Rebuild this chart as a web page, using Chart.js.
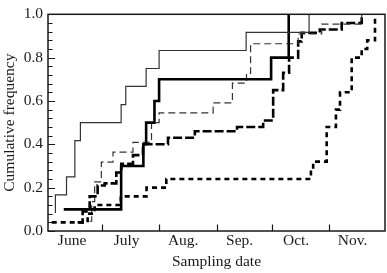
<!DOCTYPE html>
<html>
<head>
<meta charset="utf-8">
<script src="https://cdn.jsdelivr.net/npm/chart.js@4.4.1/dist/chart.umd.min.js"></script>
<style>
  html, body { margin: 0; padding: 0; background: #ffffff; }
  #wrap { width: 387px; height: 273px; position: relative; }
</style>
</head>
<body>
<div id="wrap"><canvas id="c" width="387" height="273"></canvas></div>
<script>
// ---- data (x = days since 1 June) ----
const monthNames = ['June', 'July', 'Aug.', 'Sep.', 'Oct.', 'Nov.'];
const monthLabelDays = [14, 43.5, 74, 104.5, 135, 165.5];
const monthStartDays = [30, 61, 92, 122, 153];
const yTickValues = [0, 0.2, 0.4, 0.6, 0.8, 1.0];

const thinSolidDays   = [5, 5, 11, 15.5, 18.5, 40.5, 43, 54, 61, 108, 142];
const thinSolidValues = [0.083, 0.167, 0.25, 0.417, 0.5, 0.583, 0.667, 0.75, 0.833, 0.917, 1.0];

const thickSolidDays   = [9.5, 40.5, 52.5, 54, 58.5, 61, 121.5, 131];
const thickSolidValues = [0.1, 0.3, 0.4, 0.5, 0.6, 0.7, 0.8, 1.0];

const thinDashDays   = [23.5, 24.6, 26.2, 29.8, 36.1, 46.9, 56.9, 61, 90.2, 100.6, 108.2, 110.4, 136.1, 148.8, 170.4];
const thinDashValues = [0.045, 0.136, 0.227, 0.318, 0.364, 0.409, 0.5, 0.545, 0.591, 0.682, 0.727, 0.864, 0.909, 0.955, 1.0];

const thickDashDays   = [17, 19.7, 23.5, 27.8, 31.6, 37.9, 40.6, 46.9, 52.3, 65.8, 80.3, 103.1, 117.2, 122.6, 128, 131.2, 136.1, 138, 147.8, 159.6, 170.4];
const thickDashValues = [0.04, 0.09, 0.16, 0.21, 0.22, 0.27, 0.31, 0.35, 0.40, 0.43, 0.46, 0.48, 0.51, 0.65, 0.73, 0.80, 0.875, 0.915, 0.93, 0.96, 1.0];

const dottedDays   = [3, 22.4, 26.2, 40.3, 54.2, 64.9, 143, 144.2, 151.5, 156.5, 158.7, 165, 170.4, 173.4, 177.6];
const dottedValues = [0.04, 0.08, 0.12, 0.16, 0.2, 0.24, 0.28, 0.32, 0.48, 0.56, 0.64, 0.80, 0.84, 0.88, 1.0];

const xMin = 1, xMax = 183;
const minorStep = 0.04;

function pts(xs, ys) { return xs.map((x, i) => ({ x: x, y: ys[i] })); }

const FONT = "'Liberation Serif', 'Times New Roman', serif";
const INK = '#1a1a1a';

const inTicks = {
  id: 'inTicks',
  afterDraw(chart) {
    const { ctx, chartArea: a, scales: { x, y } } = chart;
    ctx.save();
    ctx.strokeStyle = INK;
    ctx.lineWidth = 1.2;
    ctx.beginPath();
    monthStartDays.forEach(d => {
      const px = Math.round(x.getPixelForValue(d)) + 0.5;
      ctx.moveTo(px, a.bottom);
      ctx.lineTo(px, a.bottom - 6.5);
    });
    const n = Math.round(1 / minorStep);
    for (let i = 0; i <= n; i++) {
      const py = Math.round(y.getPixelForValue(i * minorStep)) + 0.5;
      const major = (i % 5 === 0);
      ctx.moveTo(a.left, py);
      ctx.lineTo(a.left + (major ? 7 : 4.5), py);
    }
    ctx.stroke();
    ctx.lineWidth = 1.5;
    ctx.strokeRect(a.left, a.top, a.right - a.left, a.bottom - a.top);
    ctx.restore();
  }
};

const base = { pointRadius: 0, pointHoverRadius: 0, stepped: 'before', fill: false, borderCapStyle: 'butt', borderJoinStyle: 'miter' };

new Chart(document.getElementById('c'), {
  type: 'line',
  data: {
    datasets: [
      Object.assign({ label: 'thin solid', data: pts(thinSolidDays, thinSolidValues), borderColor: '#333', borderWidth: 1.2 }, base),
      Object.assign({ label: 'thick solid', data: pts(thickSolidDays, thickSolidValues), borderColor: '#000', borderWidth: 2.6 }, base),
      Object.assign({ label: 'thin dashed', data: pts(thinDashDays, thinDashValues), borderColor: '#333', borderWidth: 1.2, borderDash: [7, 4] }, base),
      Object.assign({ label: 'thick dashed', data: pts(thickDashDays, thickDashValues), borderColor: '#000', borderWidth: 2.6, borderDash: [9, 3] }, base),
      Object.assign({ label: 'dotted', data: pts(dottedDays, dottedValues), borderColor: '#000', borderWidth: 2.6, borderDash: [5, 4] }, base)
    ]
  },
  options: {
    responsive: false,
    animation: false,
    events: [],
    layout: { padding: { left: 0, right: 2, top: 5, bottom: 0 } },
    plugins: { legend: { display: false }, tooltip: { enabled: false }, title: { display: false } },
    scales: {
      x: {
        type: 'linear',
        min: xMin, max: xMax,
        grid: { display: false, drawTicks: false },
        border: { display: false },
        afterBuildTicks: (s) => { s.ticks = monthLabelDays.map(v => ({ value: v })); },
        afterFit: (s) => { s.height = 42; },
        ticks: {
          autoSkip: false, maxRotation: 0, minRotation: 0, padding: 1,
          color: INK, font: { family: FONT, size: 15.5 },
          callback: (v, i) => monthNames[i]
        },
        title: { display: true, text: 'Sampling date', color: INK, font: { family: FONT, size: 15.5 }, padding: { top: 0, bottom: 2 } }
      },
      y: {
        type: 'linear',
        min: 0, max: 1,
        grid: { display: false, drawTicks: false },
        border: { display: false },
        afterBuildTicks: (s) => { s.ticks = yTickValues.map(v => ({ value: v })); },
        afterFit: (s) => { s.width = 48; },
        ticks: {
          padding: 5, color: INK, font: { family: FONT, size: 15.5 },
          callback: (v) => Number(v).toFixed(1)
        },
        title: { display: true, text: 'Cumulative frequency', color: INK, font: { family: FONT, size: 15.5 }, padding: { top: 1, bottom: 0 } }
      }
    }
  },
  plugins: [inTicks]
});
</script>
</body>
</html>
